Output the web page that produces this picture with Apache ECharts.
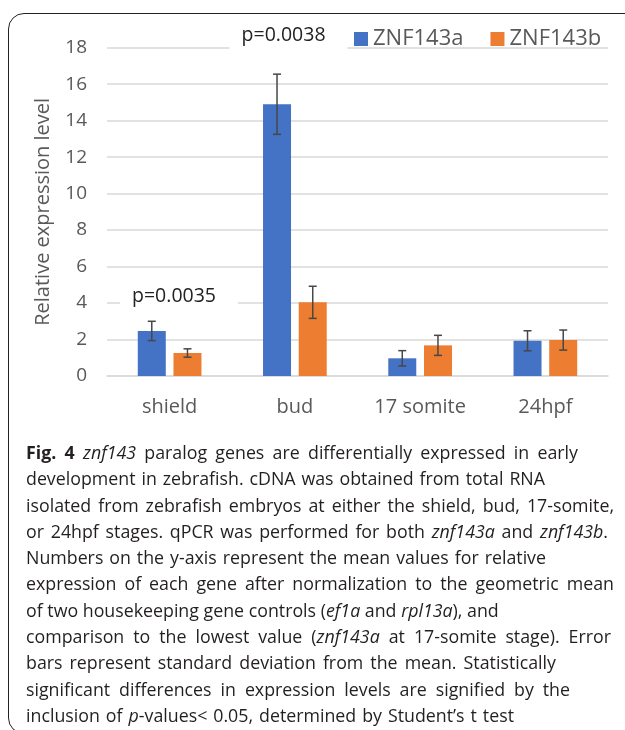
<!DOCTYPE html>
<html>
<head>
<meta charset="utf-8">
<script src="https://cdn.jsdelivr.net/npm/echarts@6/dist/echarts.min.js"></script>
<style>
  html, body { margin: 0; padding: 0; background: #fff; width: 625px; height: 730px; overflow: hidden; }
  #frame { position: absolute; left: 8px; top: 13px; width: 720px; height: 721px; border: 1.5px solid #222; border-radius: 16px; box-sizing: border-box; }
  #chart { position: absolute; left: 0; top: 0; width: 625px; height: 440px; }
  #caption { position: absolute; left: 26px; top: 439px; width: 600px; font-family: "Open Sans", sans-serif; font-size: 17.8px; line-height: 26.3px; color: #231f20; }
  #caption div { white-space: nowrap; text-align: justify; text-align-last: justify; }
</style>
</head>
<body>
<div id="frame"></div>
<div id="chart"></div>
<div id="caption">
  <div style="width:552px"><b>Fig. 4</b> <i>znf143</i> paralog genes are differentially expressed in early</div>
  <div style="width:519px">development in zebrafish. cDNA was obtained from total RNA</div>
  <div style="width:588px">isolated from zebrafish embryos at either the shield, bud, 17-somite,</div>
  <div style="width:582px">or 24hpf stages. qPCR was performed for both <i>znf143a</i> and <i>znf143b</i>.</div>
  <div style="width:520px">Numbers on the y-axis represent the mean values for relative</div>
  <div style="width:588px">expression of each gene after normalization to the geometric mean</div>
  <div style="width:464px">of two housekeeping gene controls (<i>ef1a</i> and <i>rpl13a</i>), and</div>
  <div style="width:585px">comparison to the lowest value (<i>znf143a</i> at 17-somite stage). Error</div>
  <div style="width:530px">bars represent standard deviation from the mean. Statistically</div>
  <div style="width:544px">significant differences in expression levels are signified by the</div>
  <div style="width:488px">inclusion of <i>p</i>-values&lt; 0.05, determined by Student’s t test</div>
</div>
<script>
// ---- data ----
const categories = ['shield', 'bud', '17 somite', '24hpf'];
const seriesNames = ['ZNF143a', 'ZNF143b'];
const znf143a = [2.47, 14.9, 0.97, 1.93];
const znf143b = [1.26, 4.04, 1.68, 1.97];
const sdA = [0.53, 1.65, 0.42, 0.55];
const sdB = [0.23, 0.88, 0.55, 0.55];
const yMin = 0, yMax = 18, yStep = 2;
const pLabels = ['p=0.0035', 'p=0.0038'];
const pCategory = [0, 1];
const pLevel = [4.3, 18.6];

// ---- styles ----
const FONT = '"Open Sans", sans-serif';
const GRAY = '#595959';
const BAR_W = 28;
const BAR_GAP_PX = 7.7;
const colors = ['#4472C4', '#ED7D31'];
const pShift = [4.4, -11.3];   // text-centre shift from category centre (px)

const chart = echarts.init(document.getElementById('chart'), null, { renderer: 'canvas' });

function errorSeries(means, sds, offset) {
  return {
    type: 'custom',
    silent: true,
    z: 10,
    data: means.map((m, i) => [i, m - sds[i], m + sds[i]]),
    renderItem: function (params, api) {
      const lo = api.coord([api.value(0), api.value(1)]);
      const hi = api.coord([api.value(0), api.value(2)]);
      const x = lo[0] + offset;
      const cap = 4;
      const st = { stroke: '#474747', lineWidth: 1.5 };
      return {
        type: 'group',
        children: [
          { type: 'line', shape: { x1: x, y1: lo[1], x2: x, y2: hi[1] }, style: st },
          { type: 'line', shape: { x1: x - cap, y1: hi[1], x2: x + cap, y2: hi[1] }, style: st },
          { type: 'line', shape: { x1: x - cap, y1: lo[1], x2: x + cap, y2: lo[1] }, style: st }
        ]
      };
    }
  };
}

const half = (BAR_W + BAR_GAP_PX) / 2;

chart.setOption({
  animation: false,
  color: colors,
  grid: { left: 107, right: 17, top: 47.7, bottom: 64 },
  legend: {
    data: seriesNames,
    left: 354, top: 28, padding: 0,
    icon: 'rect', itemWidth: 14, itemHeight: 14, itemGap: 27,
    textStyle: { fontFamily: FONT, fontSize: 22, color: GRAY }
  },
  xAxis: {
    type: 'category',
    data: categories,
    axisTick: { show: false },
    axisLine: { lineStyle: { color: '#D9D9D9', width: 1.5 } },
    axisLabel: { fontFamily: FONT, fontSize: 20, color: GRAY, margin: 21 }
  },
  yAxis: {
    type: 'value',
    min: yMin, max: yMax, interval: yStep,
    name: 'Relative expression level',
    nameLocation: 'middle', nameRotate: 90, nameGap: 54,
    nameTextStyle: { fontFamily: FONT, fontSize: 20, color: GRAY },
    axisLine: { show: false }, axisTick: { show: false },
    axisLabel: { fontFamily: FONT, fontSize: 19, color: GRAY, margin: 20 },
    splitLine: { lineStyle: { color: '#D9D9D9', width: 1.5 } }
  },
  series: [
    { name: seriesNames[0], type: 'bar', data: znf143a, barWidth: BAR_W, barGap: (BAR_GAP_PX / BAR_W * 100) + '%' },
    { name: seriesNames[1], type: 'bar', data: znf143b, barWidth: BAR_W, barGap: (BAR_GAP_PX / BAR_W * 100) + '%' },
    errorSeries(znf143a, sdA, -half),
    errorSeries(znf143b, sdB, half)
  ]
});

// p-value annotations placed through the axes
const graphics = pLabels.map((t, i) => {
  const p = chart.convertToPixel({ gridIndex: 0 }, [pCategory[i], pLevel[i]]);
  return {
    type: 'text',
    x: p[0] + pShift[i] - 42 - 12,
    y: p[1] - 14,
    z: 5,
    style: {
      text: t,
      font: '19.5px ' + FONT,
      fill: '#222',
      backgroundColor: '#fff',
      padding: [3, 22, 10, 12]
    }
  };
});
chart.setOption({ graphic: graphics });
</script>
</body>
</html>
